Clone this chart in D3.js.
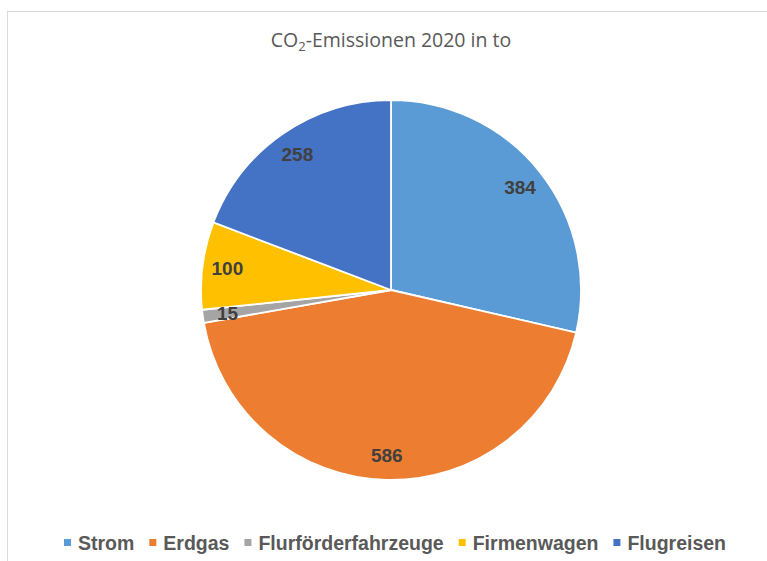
<!DOCTYPE html>
<html>
<head>
<meta charset="utf-8">
<script src="https://cdn.jsdelivr.net/npm/d3@7/dist/d3.min.js"></script>
<style>
html,body{margin:0;padding:0;background:#fff;}
svg{display:block;}
</style>
</head>
<body>
<svg id="chart" width="767" height="561"></svg>
<script>
const categories = ["Strom", "Erdgas", "Flurförderfahrzeuge", "Firmenwagen", "Flugreisen"];
const values = [384, 586, 15, 100, 258];
const colors = ["#5B9BD5", "#ED7D31", "#A5A5A5", "#FFC000", "#4472C4"];

const W = 767, H = 561;
const svg = d3.select("#chart");

// chart area border
svg.append("rect")
  .attr("x", 7.5).attr("y", 11.5)
  .attr("width", W + 10).attr("height", H + 10)
  .attr("fill", "#fff").attr("stroke", "#d9d9d9").attr("stroke-width", 1);

// title
const title = svg.append("text")
  .attr("x", 391).attr("y", 47)
  .attr("text-anchor", "middle")
  .attr("font-family", "'Open Sans', sans-serif")
  .attr("font-size", 19.5)
  .attr("fill", "#595959");
title.append("tspan").text("CO");
title.append("tspan").attr("font-size", 13).attr("dy", 4).text("2");
title.append("tspan").attr("dy", -4).text("-Emissionen 2020 in to");

// pie
const cx = 391, cy = 290, R = 190;
const data = categories.map((c, i) => ({ cat: c, value: values[i], color: colors[i] }));
const pie = d3.pie().value(d => d.value).sort(null);
const arcs = pie(data);
const arc = d3.arc().innerRadius(0).outerRadius(R);
const labelArc = d3.arc().innerRadius(165).outerRadius(165);

const g = svg.append("g").attr("transform", `translate(${cx},${cy})`);
g.selectAll("path.slice").data(arcs).enter().append("path")
  .attr("class", "slice")
  .attr("d", arc)
  .attr("fill", d => d.data.color)
  .attr("stroke", "#fff").attr("stroke-width", 1.8).attr("stroke-linejoin", "round");

g.selectAll("text.lbl").data(arcs).enter().append("text")
  .attr("class", "lbl")
  .attr("transform", d => `translate(${labelArc.centroid(d)})`)
  .attr("text-anchor", "middle")
  .attr("dy", "0.36em")
  .attr("font-family", "'Liberation Sans', Arial, sans-serif")
  .attr("font-weight", "bold")
  .attr("font-size", 19)
  .attr("fill", "#404040")
  .text(d => d.data.value);

// legend
const legFont = 19.5;
const legY = 550;
const leg = svg.append("g");
const items = leg.selectAll("g.item").data(data).enter().append("g").attr("class", "item");
items.append("rect").attr("width", 7).attr("height", 7).attr("y", -11).attr("fill", d => d.color);
items.append("text")
  .attr("x", 14)
  .attr("font-family", "'Liberation Sans', Arial, sans-serif")
  .attr("font-weight", "bold")
  .attr("font-size", legFont)
  .attr("fill", "#595959")
  .text(d => d.cat);
const widths = [];
items.each(function () { widths.push(14 + d3.select(this).select("text").node().getComputedTextLength()); });
const gap = 15;
const total = d3.sum(widths) + gap * (widths.length - 1);
let x0 = 395 - total / 2;
items.attr("transform", (d, i) => {
  const x = x0; x0 += widths[i] + gap;
  return `translate(${x},${legY})`;
});
</script>
</body>
</html>
